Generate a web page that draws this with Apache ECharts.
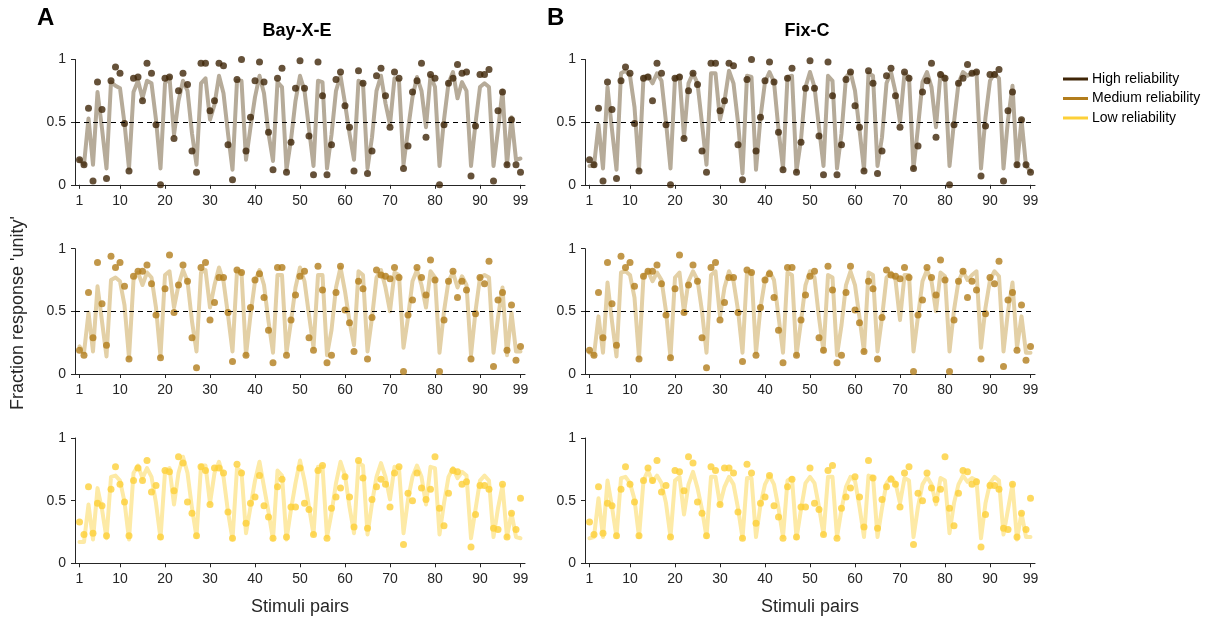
<!DOCTYPE html>
<html>
<head>
<meta charset="utf-8">
<script src="https://cdn.jsdelivr.net/npm/echarts@6/dist/echarts.min.js"></script>
<style>
html,body{margin:0;padding:0;background:#fff;}
#chart{width:1220px;height:619px;}
</style>
</head>
<body>
<div id="chart"></div>
<script>
// Tick labels
const xTicks = [1, 10, 20, 30, 40, 50, 60, 70, 80, 90, 99];
const yTicks = [0, 0.5, 1];

// Observed fractions (shared by both models)
const highObs = [0.20,0.16,0.61,0.03,0.82,0.60,0.05,0.83,0.94,0.89,
0.49,0.11,0.85,0.86,0.67,0.97,0.89,0.48,0.00,0.85,
0.86,0.37,0.75,0.89,0.80,0.27,0.10,0.97,0.97,0.59,
0.67,0.97,0.95,0.32,0.04,0.84,1.00,0.27,0.54,0.83,
0.98,0.82,0.42,0.12,0.85,0.93,0.10,0.34,0.77,0.99,
0.77,0.39,0.08,0.98,0.71,0.08,0.32,0.84,0.90,0.63,
0.46,0.11,0.91,0.81,0.09,0.27,0.87,0.93,0.71,0.46,
0.90,0.85,0.13,0.31,0.74,0.83,0.97,0.38,0.88,0.85,
0.00,0.48,0.81,0.85,0.96,0.89,0.90,0.07,0.47,0.88,
0.88,0.92,0.03,0.59,0.74,0.16,0.52,0.16,0.10];

const medObs = [0.19,0.15,0.65,0.29,0.89,0.56,0.23,0.94,0.85,0.89,
0.70,0.12,0.78,0.82,0.82,0.87,0.72,0.47,0.13,0.68,
0.95,0.49,0.71,0.87,0.74,0.29,0.05,0.85,0.89,0.43,
0.57,0.77,0.77,0.49,0.10,0.83,0.81,0.15,0.53,0.75,
0.80,0.61,0.35,0.09,0.85,0.85,0.15,0.43,0.63,0.78,
0.82,0.29,0.19,0.86,0.67,0.09,0.15,0.65,0.86,0.51,
0.41,0.18,0.74,0.68,0.12,0.45,0.83,0.79,0.78,0.76,
0.85,0.77,0.02,0.47,0.59,0.85,0.77,0.63,0.91,0.75,
0.02,0.43,0.74,0.82,0.61,0.74,0.67,0.12,0.48,0.77,
0.72,0.90,0.06,0.59,0.65,0.19,0.55,0.11,0.22];

const lowObs = [0.33,0.23,0.61,0.24,0.48,0.46,0.22,0.59,0.77,0.63,
0.49,0.22,0.66,0.76,0.66,0.82,0.57,0.62,0.21,0.74,
0.73,0.58,0.85,0.80,0.49,0.40,0.22,0.77,0.74,0.47,
0.76,0.76,0.72,0.41,0.20,0.79,0.72,0.32,0.48,0.53,
0.70,0.46,0.37,0.20,0.61,0.67,0.21,0.45,0.45,0.76,
0.48,0.43,0.23,0.74,0.78,0.20,0.44,0.53,0.60,0.69,
0.53,0.29,0.82,0.68,0.28,0.51,0.61,0.67,0.63,0.45,
0.72,0.77,0.15,0.56,0.50,0.72,0.60,0.51,0.59,0.85,
0.44,0.30,0.56,0.74,0.73,0.63,0.65,0.13,0.39,0.62,
0.62,0.59,0.28,0.27,0.63,0.21,0.40,0.27,0.52];

// Model predictions: Bay-X-E
const highFitA = [0.20,0.16,0.53,0.16,0.74,0.45,0.13,0.82,0.79,0.77,
0.49,0.13,0.74,0.83,0.69,0.83,0.81,0.52,0.13,0.81,
0.86,0.40,0.67,0.83,0.75,0.41,0.16,0.81,0.85,0.52,
0.64,0.87,0.73,0.41,0.12,0.83,0.83,0.20,0.46,0.70,
0.87,0.73,0.41,0.19,0.82,0.78,0.12,0.36,0.67,0.87,
0.75,0.45,0.15,0.83,0.82,0.13,0.40,0.75,0.87,0.65,
0.41,0.20,0.83,0.81,0.13,0.38,0.75,0.87,0.65,0.48,
0.85,0.83,0.16,0.44,0.70,0.86,0.75,0.46,0.87,0.78,
0.15,0.52,0.81,0.90,0.69,0.82,0.75,0.15,0.49,0.78,
0.81,0.78,0.15,0.44,0.75,0.16,0.54,0.20,0.21];

const medFitA = [0.22,0.17,0.49,0.18,0.70,0.42,0.14,0.75,0.77,0.74,
0.55,0.13,0.75,0.81,0.71,0.81,0.77,0.53,0.14,0.79,
0.82,0.53,0.71,0.83,0.74,0.42,0.18,0.81,0.83,0.53,
0.71,0.85,0.74,0.47,0.18,0.82,0.81,0.15,0.47,0.74,
0.83,0.71,0.42,0.17,0.79,0.79,0.17,0.42,0.69,0.85,
0.74,0.47,0.21,0.79,0.79,0.15,0.35,0.69,0.85,0.66,
0.42,0.23,0.82,0.79,0.18,0.45,0.77,0.83,0.69,0.50,
0.81,0.79,0.21,0.45,0.74,0.83,0.71,0.53,0.82,0.77,
0.17,0.50,0.74,0.81,0.69,0.78,0.71,0.15,0.50,0.77,
0.79,0.77,0.17,0.45,0.69,0.15,0.49,0.18,0.18];

const lowFitA = [0.17,0.17,0.47,0.19,0.60,0.43,0.20,0.69,0.70,0.66,
0.49,0.19,0.72,0.78,0.68,0.76,0.69,0.48,0.20,0.73,
0.76,0.47,0.72,0.85,0.72,0.44,0.21,0.78,0.78,0.48,
0.72,0.81,0.69,0.41,0.19,0.76,0.73,0.24,0.45,0.66,
0.81,0.61,0.41,0.19,0.74,0.70,0.19,0.43,0.64,0.82,
0.66,0.45,0.23,0.77,0.77,0.21,0.40,0.64,0.81,0.70,
0.45,0.24,0.80,0.78,0.23,0.48,0.69,0.80,0.69,0.51,
0.77,0.76,0.24,0.51,0.69,0.78,0.69,0.47,0.77,0.76,
0.23,0.48,0.69,0.76,0.68,0.73,0.70,0.20,0.43,0.66,
0.70,0.66,0.21,0.44,0.62,0.21,0.40,0.21,0.20];

// Model predictions: Fix-C
const highFitB = [0.15,0.15,0.48,0.13,0.78,0.44,0.12,0.89,0.91,0.87,
0.62,0.12,0.86,0.87,0.81,0.89,0.83,0.50,0.13,0.85,
0.87,0.38,0.81,0.89,0.81,0.49,0.16,0.89,0.89,0.52,
0.67,0.91,0.81,0.50,0.09,0.87,0.86,0.12,0.54,0.82,
0.90,0.82,0.44,0.13,0.86,0.87,0.11,0.36,0.78,0.90,
0.78,0.46,0.15,0.87,0.83,0.13,0.41,0.86,0.90,0.75,
0.44,0.12,0.89,0.87,0.15,0.38,0.81,0.90,0.74,0.50,
0.89,0.86,0.13,0.46,0.82,0.90,0.78,0.46,0.89,0.86,
0.15,0.50,0.81,0.90,0.87,0.89,0.90,0.13,0.54,0.83,
0.89,0.85,0.13,0.52,0.79,0.15,0.52,0.15,0.11];

const medFitB = [0.17,0.15,0.46,0.17,0.73,0.42,0.14,0.81,0.82,0.79,
0.61,0.13,0.78,0.82,0.74,0.81,0.75,0.50,0.13,0.77,
0.81,0.49,0.74,0.82,0.75,0.50,0.17,0.79,0.82,0.46,
0.69,0.82,0.74,0.51,0.17,0.81,0.81,0.17,0.53,0.75,
0.82,0.75,0.46,0.17,0.81,0.79,0.15,0.42,0.71,0.82,
0.77,0.45,0.18,0.79,0.77,0.15,0.39,0.71,0.82,0.71,
0.45,0.18,0.81,0.79,0.18,0.45,0.77,0.81,0.75,0.43,
0.79,0.79,0.18,0.46,0.74,0.83,0.74,0.50,0.81,0.78,
0.18,0.51,0.74,0.82,0.75,0.79,0.82,0.21,0.53,0.75,
0.82,0.78,0.18,0.50,0.73,0.21,0.46,0.17,0.17];

const lowFitB = [0.20,0.21,0.52,0.21,0.66,0.45,0.21,0.68,0.69,0.64,
0.51,0.21,0.66,0.74,0.65,0.70,0.64,0.48,0.21,0.66,
0.69,0.39,0.63,0.73,0.60,0.43,0.21,0.69,0.69,0.47,
0.61,0.69,0.63,0.44,0.20,0.68,0.68,0.21,0.47,0.63,
0.70,0.63,0.44,0.21,0.66,0.68,0.20,0.43,0.64,0.69,
0.64,0.45,0.23,0.69,0.69,0.21,0.43,0.61,0.69,0.66,
0.45,0.21,0.70,0.69,0.21,0.44,0.64,0.69,0.64,0.48,
0.68,0.66,0.21,0.45,0.63,0.69,0.63,0.47,0.68,0.66,
0.24,0.48,0.63,0.70,0.65,0.68,0.66,0.20,0.48,0.64,
0.69,0.66,0.23,0.43,0.63,0.19,0.40,0.21,0.21];

const modelNames = ['Bay-X-E', 'Fix-C'];
const panelLetters = ['A', 'B'];
const legendNames = ['High reliability', 'Medium reliability', 'Low reliability'];

const FONT = 'Liberation Sans, Arial, Helvetica, sans-serif';
const dotColors = ['#3f2507', '#b27d1c', '#fdd038'];
const fitColors = ['#b6ab99', '#e3d0a6', '#fdeaa6'];
const axisColor = '#262626';

const obsRows = [highObs, medObs, lowObs];
const fitRows = [[highFitA, highFitB], [medFitA, medFitB], [lowFitA, lowFitB]];

const colLeft = [75, 585];
const rowTop = [59.5, 248.7, 438];
const gw = 450, gh = 125.3;

const stimuli = highObs.map((_, i) => i + 1);
const pairs = vals => vals.map((v, i) => [stimuli[i], v]);

const grids = [], xAxes = [], yAxes = [], series = [];
let idx = 0;
for (let r = 0; r < 3; r++) {
  for (let c = 0; c < 2; c++) {
    grids.push({ left: colLeft[c], top: rowTop[r], width: gw, height: gh, containLabel: false });
    xAxes.push({
      type: 'value', gridIndex: idx, min: 0, max: 100,
      axisLine: { show: true, lineStyle: { color: axisColor, width: 1 } },
      axisTick: { show: true, customValues: xTicks, length: 4, inside: false, lineStyle: { color: axisColor } },
      axisLabel: { show: true, customValues: xTicks, margin: 9, color: axisColor, fontSize: 14, fontFamily: FONT },
      splitLine: { show: false },
      name: r === 2 ? 'Stimuli pairs' : '',
      nameLocation: 'middle', nameGap: 35,
      nameTextStyle: { fontSize: 18, color: axisColor, fontFamily: FONT }
    });
    yAxes.push({
      type: 'value', gridIndex: idx, min: 0, max: 1, interval: 0.5,
      axisLine: { show: true, lineStyle: { color: axisColor, width: 1 } },
      axisTick: { show: true, length: 4, inside: false, lineStyle: { color: axisColor } },
      axisLabel: { show: true, margin: 9, color: axisColor, fontSize: 14, fontFamily: FONT,
        formatter: v => (yTicks.indexOf(v) >= 0 ? String(v) : '') },
      splitLine: { show: false }
    });
    const lineSeries = {
      type: 'line', xAxisIndex: idx, yAxisIndex: idx,
      data: pairs(fitRows[r][c]), showSymbol: false, symbol: 'none',
      lineStyle: { color: fitColors[r], width: 4, join: 'round', cap: 'round' },
      z: 2, silent: true
    };
    if (r < 2) {
      lineSeries.markLine = {
        silent: true, symbol: ['none', 'none'], animation: false,
        label: { show: false },
        lineStyle: { color: '#000', type: [5, 4], width: 1 },
        data: [{ yAxis: 0.5 }]
      };
    }
    series.push(lineSeries);
    series.push({
      type: 'scatter', xAxisIndex: idx, yAxisIndex: idx,
      data: pairs(obsRows[r]), symbol: 'circle', symbolSize: 7,
      itemStyle: { color: dotColors[r] }, z: 3, silent: true
    });
    idx++;
  }
}

const graphic = [];
for (let c = 0; c < 2; c++) {
  graphic.push({ type: 'text', left: colLeft[c] - 38, top: 6,
    style: { text: panelLetters[c], font: 'bold 24px ' + FONT, fill: '#000' } });
  graphic.push({ type: 'text', x: colLeft[c] + gw / 2 - 3, y: 31,
    style: { text: modelNames[c], font: 'bold 18px ' + FONT, fill: '#000', align: 'center', verticalAlign: 'middle' } });
}
graphic.push({ type: 'text', x: 18, y: 313, rotation: Math.PI / 2,
  style: { text: "Fraction response 'unity'", font: '18px ' + FONT, fill: axisColor, align: 'center', verticalAlign: 'middle' } });
for (let k = 0; k < 3; k++) {
  const y = 79 + k * 19.5;
  graphic.push({ type: 'line', shape: { x1: 1063, y1: y, x2: 1088, y2: y },
    style: { stroke: dotColors[k], lineWidth: 3 } });
  graphic.push({ type: 'text', x: 1092, y: y,
    style: { text: legendNames[k], font: '14px ' + FONT, fill: '#000', verticalAlign: 'middle' } });
}

const chart = echarts.init(document.getElementById('chart'), null, { renderer: 'canvas' });
chart.setOption({
  animation: false,
  backgroundColor: '#fff',
  grid: grids, xAxis: xAxes, yAxis: yAxes, series: series, graphic: graphic
});
</script>
</body>
</html>
